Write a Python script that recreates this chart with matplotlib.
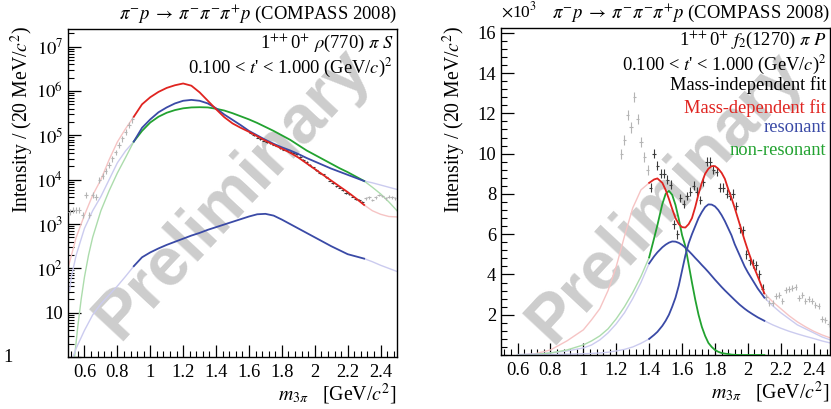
import numpy as np
import matplotlib; matplotlib.use("Agg")
import matplotlib.pyplot as plt
from matplotlib.ticker import MultipleLocator, FixedLocator, FixedFormatter, NullFormatter

plt.rcParams['font.family'] = ['Liberation Serif', 'DejaVu Serif']
plt.rcParams['mathtext.fontset'] = 'stix'

RED = "#e02420"; BLUE = "#3a4aa6"; GREEN = "#22a230"
PINK = "#f6c4c4"; LAV = "#cbcbef"; LGRN = "#acdcac"
GRAY = "#b4b4b4"; DARK = "#3a3a3a"; WM = "#cdcdcd"

# ---------- left panel: 1++0+ rho(770) pi S  (log10 of intensity)
L_FIT_X = [0.90, 0.95, 1.00, 1.05, 1.10, 1.15, 1.20, 1.25, 1.30, 1.35, 1.40, 1.45, 1.50, 1.55,
           1.60, 1.65, 1.70, 1.75, 1.80, 1.85, 1.90, 1.95, 2.00, 2.05, 2.10, 2.15, 2.20, 2.25, 2.30]
L_TOTAL = [5.42, 5.70, 5.86, 5.98, 6.07, 6.13, 6.17, 6.12, 5.97, 5.78, 5.59, 5.41, 5.27, 5.17,
           5.08, 4.98, 4.88, 4.79, 4.70, 4.61, 4.50, 4.37, 4.24, 4.11, 3.98, 3.85, 3.72, 3.58, 3.43]
L_RES = [4.86, 5.17, 5.36, 5.52, 5.63, 5.72, 5.78, 5.80, 5.78, 5.72, 5.61, 5.47, 5.35, 5.23,
         5.10, 5.00, 4.90, 4.81, 4.73, 4.66, 4.58, 4.49, 4.41, 4.33, 4.25, 4.18, 4.11, 4.04, 3.97]
L_NONRES = [4.86, 5.10, 5.29, 5.42, 5.51, 5.57, 5.61, 5.63, 5.635, 5.63, 5.60, 5.56, 5.50, 5.43,
            5.36, 5.28, 5.19, 5.10, 5.00, 4.90, 4.78, 4.66, 4.56, 4.46, 4.36, 4.26, 4.17, 4.07, 3.97]
L_RES2 = [2.05, 2.25, 2.36, 2.45, 2.53, 2.60, 2.67, 2.74, 2.80, 2.87, 2.93, 2.99, 3.05, 3.11,
          3.17, 3.22, 3.23, 3.19, 3.10, 3.00, 2.90, 2.80, 2.70, 2.60, 2.50, 2.41, 2.32, 2.27, 2.22]
# faded extensions outside the fit range
L_TOTAL_LO_X = [0.50, 0.55, 0.60, 0.65, 0.70, 0.75, 0.80, 0.85, 0.90]
L_TOTAL_LO = [2.00, 2.70, 3.20, 3.65, 4.00, 4.45, 4.85, 5.15, 5.42]
L_RES_LO_X = [0.51, 0.52, 0.55, 0.60, 0.65, 0.70, 0.75, 0.80, 0.85, 0.90]
L_RES_LO = [1.50, 1.80, 2.30, 2.90, 3.30, 3.62, 4.00, 4.38, 4.65, 4.86]
L_NONRES_LO_X = [0.54, 0.56, 0.58, 0.60, 0.625, 0.65, 0.70, 0.75, 0.80, 0.85, 0.90]
L_NONRES_LO = [0.00, 0.70, 1.30, 1.80, 2.30, 2.70, 3.30, 3.75, 4.15, 4.50, 4.86]
L_RES2_LO_X = [0.53, 0.55, 0.60, 0.65, 0.70, 0.75, 0.80, 0.85, 0.90]
L_RES2_LO = [0.00, 0.20, 0.60, 0.95, 1.20, 1.40, 1.60, 1.82, 2.05]
L_HI_X = [2.30, 2.35, 2.40, 2.45, 2.50]
L_TOTAL_HI = [3.43, 3.30, 3.22, 3.17, 3.16]
L_RES_HI = [3.97, 3.93, 3.88, 3.83, 3.78]
L_NONRES_HI = [3.97, 3.83, 3.68, 3.50, 3.30]
L_RES2_HI = [2.22, 2.15, 2.07, 2.00, 1.93]
# mass-independent points
L_PTS_LO_X = [0.51, 0.53, 0.55, 0.57, 0.59, 0.61, 0.63, 0.65, 0.67, 0.69, 0.71, 0.73, 0.75, 0.77,
              0.79, 0.81, 0.83, 0.85, 0.87, 0.89]
L_PTS_LO = [3.28, 3.32, 3.32, 3.32, 3.20, 3.66, 3.20, 3.66, 3.62, 4.00, 4.08, 4.20, 4.34, 4.48,
            4.62, 4.78, 4.93, 5.08, 5.23, 5.36]
L_PTS_X = [1.61, 1.63, 1.65, 1.67, 1.69, 1.71, 1.73, 1.75, 1.77, 1.79, 1.81, 1.83, 1.85, 1.87,
           1.89, 1.91, 1.93, 1.95, 1.97, 1.99, 2.01, 2.03, 2.05, 2.07, 2.09, 2.11, 2.13, 2.15,
           2.17, 2.19, 2.21, 2.23, 2.25, 2.27, 2.29]
L_PTS = [5.05, 5.00, 4.95, 4.92, 4.88, 4.84, 4.82, 4.79, 4.77, 4.72, 4.68, 4.66, 4.62, 4.60,
         4.58, 4.52, 4.45, 4.40, 4.33, 4.28, 4.22, 4.15, 4.12, 4.05, 3.98, 3.92, 3.85, 3.82,
         3.76, 3.70, 3.68, 3.62, 3.57, 3.54, 3.50]
L_PTS_HI_X = [2.31, 2.33, 2.35, 2.37, 2.39, 2.41, 2.43, 2.45, 2.47, 2.49]
L_PTS_HI = [3.58, 3.60, 3.55, 3.60, 3.65, 3.63, 3.58, 3.62, 3.60, 3.58]

# ---------- right panel: 1++0+ f2(1270) pi P  (intensity in units of 10^3)
R_FIT_X = [1.40, 1.43, 1.45, 1.48, 1.50, 1.52, 1.54, 1.56, 1.58, 1.60, 1.62, 1.64, 1.66, 1.68,
           1.70, 1.72, 1.74, 1.76, 1.78, 1.80, 1.82, 1.84, 1.86, 1.88, 1.90, 1.92, 1.95, 1.98,
           2.00, 2.03, 2.06, 2.10]
R_TOTAL = [8.55, 8.72, 8.77, 8.55, 8.20, 7.75, 7.25, 6.80, 6.50, 6.35, 6.33, 6.50, 6.80, 7.35,
           8.00, 8.55, 9.00, 9.25, 9.38, 9.38, 9.25, 9.05, 8.75, 8.25, 7.80, 7.30, 6.50, 5.70,
           5.20, 4.50, 3.90, 3.06]
R_RES1 = [4.55, 4.90, 5.10, 5.35, 5.48, 5.58, 5.64, 5.63, 5.57, 5.47, 5.33, 5.17, 5.00, 4.82,
          4.65, 4.47, 4.30, 4.12, 3.93, 3.74, 3.56, 3.38, 3.21, 3.05, 2.89, 2.73, 2.50, 2.30,
          2.18, 2.02, 1.87, 1.70]
R_RES2 = [0.80, 1.00, 1.15, 1.45, 1.70, 2.00, 2.40, 2.85, 3.45, 4.20, 4.95, 5.55, 6.00, 6.40,
          6.80, 7.10, 7.35, 7.48, 7.47, 7.38, 7.20, 6.95, 6.65, 6.30, 5.95, 5.50, 4.95, 4.40,
          4.10, 3.70, 3.30, 2.85]
R_NONRES = [4.85, 5.80, 6.45, 7.50, 8.00, 8.15, 7.95, 7.45, 6.75, 5.95, 5.40, 4.50, 3.60, 2.75,
            2.00, 1.40, 0.95, 0.60, 0.40, 0.25, 0.16, 0.10, 0.07, 0.05, 0.02, 0.01, 0.0, 0.0,
            0.0, 0.0, 0.0, 0.0]
R_LO_X = [0.60, 0.70, 0.80, 0.90, 1.00, 1.05, 1.10, 1.15, 1.20, 1.25, 1.30, 1.35, 1.40]
R_TOTAL_LO = [0.00, 0.05, 0.25, 0.70, 1.25, 1.75, 2.30, 3.20, 4.40, 5.90, 7.30, 8.20, 8.55]
R_RES1_LO = [0.02, 0.05, 0.10, 0.20, 0.35, 0.50, 0.75, 1.10, 1.55, 2.10, 2.80, 3.60, 4.55]
R_NONRES_LO = [0.00, 0.02, 0.10, 0.25, 0.50, 0.70, 0.95, 1.30, 1.80, 2.40, 3.10, 3.90, 4.85]
R_RES2_LO = [0.00, 0.00, 0.02, 0.04, 0.06, 0.08, 0.10, 0.14, 0.20, 0.28, 0.40, 0.58, 0.80]
R_HI_X = [2.10, 2.15, 2.20, 2.25, 2.30, 2.35, 2.40, 2.45, 2.50]
R_TOTAL_HI = [3.06, 2.65, 2.30, 1.95, 1.65, 1.40, 1.18, 1.00, 0.85]
R_RES1_HI = [1.70, 1.50, 1.33, 1.18, 1.05, 0.93, 0.82, 0.70, 0.60]
R_RES2_HI = [2.85, 2.45, 2.10, 1.80, 1.50, 1.30, 1.10, 0.90, 0.75]
R_NONRES_HI = [0.0, 0.0, 0.0, 0.0, 0.0, 0.0, 0.0, 0.0, 0.0]
R_PTS_LO_X = [1.23, 1.25, 1.27, 1.29, 1.31, 1.33, 1.35, 1.37, 1.39]
R_PTS_LO = [10.0, 10.7, 11.9, 11.3, 12.8, 11.7, 10.6, 9.85, 9.2]
R_PTS_X = [1.41, 1.43, 1.45, 1.47, 1.49, 1.51, 1.53, 1.55, 1.57, 1.59, 1.61, 1.63, 1.65, 1.67,
           1.69, 1.71, 1.73, 1.75, 1.77, 1.79, 1.81, 1.83, 1.85, 1.87, 1.89, 1.91, 1.93, 1.95,
           1.97, 1.99, 2.01, 2.03, 2.05, 2.07, 2.09]
R_PTS = [8.3, 10.0, 9.4, 9.0, 9.0, 8.7, 8.45, 6.5, 6.0, 7.8, 7.5, 7.9, 8.1, 8.4,
         8.1, 7.7, 8.6, 9.6, 9.6, 9.2, 9.1, 8.3, 8.3, 8.0, 7.9, 8.0, 7.4, 6.3,
         6.2, 5.0, 4.7, 4.55, 4.45, 4.0, 3.3]
R_PTS_HI_X = [2.11, 2.13, 2.15, 2.17, 2.19, 2.21, 2.23, 2.25, 2.27, 2.29, 2.31, 2.33, 2.35, 2.37,
              2.39, 2.41, 2.43, 2.45, 2.47, 2.49]
R_PTS_HI = [2.9, 2.6, 2.6, 2.95, 3.0, 2.7, 3.25, 3.3, 3.35, 3.4, 2.85, 3.0, 2.7, 2.8,
            2.7, 2.5, 2.45, 1.8, 1.75, 1.55]

X_TICKS = [0.6, 0.8, 1.0, 1.2, 1.4, 1.6, 1.8, 2.0, 2.2, 2.4]
X_TICKLABELS = ["0.6", "0.8", "1", "1.2", "1.4", "1.6", "1.8", "2", "2.2", "2.4"]
L_YTICKS = [1, 10, 1e2, 1e3, 1e4, 1e5, 1e6, 1e7]
L_YTICKLABELS = ["", "10", r"$10^2$", r"$10^3$", r"$10^4$", r"$10^5$", r"$10^6$", r"$10^7$"]
R_YTICKS = [2, 4, 6, 8, 10, 12, 14, 16]

TITLE = r"$\pi^{-}p\;\rightarrow\;\pi^{-}\pi^{-}\pi^{+}p$ (COMPASS 2008)"
TCUT = r"0.100 < $t$' < 1.000 (GeV/$c$)$^2$"
YLAB = r"Intensity / (20 MeV/$c^2$)"
XLAB = r"$m_{3\pi}$   [GeV/$c^2$]"
FS = 13.3

fig = plt.figure(figsize=(8.31, 4.09), dpi=100)
axL = fig.add_axes([0.0818, 0.127, 0.396, 0.802])
axR = fig.add_axes([0.603, 0.132, 0.396, 0.800])

def p10(a):
    return 10 ** np.asarray(a, dtype=float)

# ----- left
ax = axL
ax.text(0.50, 0.50, "Preliminary", transform=ax.transAxes, rotation=47, ha='center', va='center',
        fontsize=49, fontweight='bold', color=WM, family='Liberation Sans', zorder=0)
ax.plot(L_TOTAL_LO_X, p10(L_TOTAL_LO), color=PINK, lw=1.0, zorder=2)
ax.plot(L_RES_LO_X, p10(L_RES_LO), color=LAV, lw=1.0, zorder=2)
ax.plot(L_NONRES_LO_X, p10(L_NONRES_LO), color=LGRN, lw=1.0, zorder=2)
ax.plot(L_RES2_LO_X, p10(L_RES2_LO), color=LAV, lw=1.0, zorder=2)
ax.plot(L_HI_X, p10(L_TOTAL_HI), color=PINK, lw=1.0, zorder=2)
ax.plot(L_HI_X, p10(L_RES_HI), color=LAV, lw=1.0, zorder=2)
ax.plot(L_HI_X, p10(L_NONRES_HI), color=LGRN, lw=1.0, zorder=2)
ax.plot(L_HI_X, p10(L_RES2_HI), color=LAV, lw=1.0, zorder=2)
ax.errorbar(L_PTS_LO_X, p10(L_PTS_LO), xerr=0.01, yerr=0.15 * p10(L_PTS_LO), fmt='none',
            ecolor=GRAY, elinewidth=0.8, zorder=3)
ax.errorbar(L_PTS_HI_X, p10(L_PTS_HI), xerr=0.01, yerr=0.06 * p10(L_PTS_HI), fmt='none',
            ecolor=GRAY, elinewidth=0.8, zorder=3)
ax.errorbar(L_PTS_X, p10(L_PTS), xerr=0.01, yerr=0.04 * p10(L_PTS), fmt='none',
            ecolor=DARK, elinewidth=0.8, zorder=3)
ax.plot(L_FIT_X, p10(L_NONRES), color=GREEN, lw=1.3, zorder=4)
ax.plot(L_FIT_X, p10(L_RES), color=BLUE, lw=1.3, zorder=4)
ax.plot(L_FIT_X, p10(L_RES2), color=BLUE, lw=1.3, zorder=4)
ax.plot(L_FIT_X, p10(L_TOTAL), color=RED, lw=1.3, zorder=5)
ax.set_yscale('log')
ax.set_xlim(0.5, 2.5); ax.set_ylim(1, 2.5e7)
ax.yaxis.set_major_locator(FixedLocator(L_YTICKS))
ax.yaxis.set_major_formatter(FixedFormatter(L_YTICKLABELS))
ax.yaxis.set_minor_locator(FixedLocator([m * 10 ** e for e in range(0, 8) for m in range(2, 10)]))
ax.yaxis.set_minor_formatter(NullFormatter())
# ROOT puts the "1" label far to the left
fig.text(3 / 831, 1 - 357 / 409, "1", ha='left', va='center', fontsize=FS)
ax.text(0.988, (357 - 48) / 328, r"1$^{+\!+}$0$^{+}$ $\rho$(770) $\pi$ $S$",
        transform=ax.transAxes, ha='right', va='baseline', fontsize=FS)
ax.text(0.988, (357 - 73) / 328, TCUT, transform=ax.transAxes, ha='right', va='baseline', fontsize=FS)

# ----- right
ax = axR
ax.text(0.50, 0.48, "Preliminary", transform=ax.transAxes, rotation=47, ha='center', va='center',
        fontsize=49, fontweight='bold', color=WM, family='Liberation Sans', zorder=0)
ax.plot(R_LO_X, R_TOTAL_LO, color=PINK, lw=1.0, zorder=2)
ax.plot(R_LO_X, R_RES1_LO, color=LAV, lw=1.0, zorder=2)
ax.plot(R_LO_X, R_NONRES_LO, color=LGRN, lw=1.0, zorder=2)
ax.plot(R_LO_X, R_RES2_LO, color=LAV, lw=1.0, zorder=2)
ax.plot(R_HI_X, R_TOTAL_HI, color=PINK, lw=1.0, zorder=2)
ax.plot(R_HI_X, R_RES1_HI, color=LAV, lw=1.0, zorder=2)
ax.plot(R_HI_X, R_RES2_HI, color=LAV, lw=1.0, zorder=2)
ax.plot(R_HI_X, R_NONRES_HI, color=LGRN, lw=1.0, zorder=2)
ax.errorbar(R_PTS_LO_X, R_PTS_LO, xerr=0.01, yerr=0.25, fmt='none', ecolor=GRAY,
            elinewidth=0.8, zorder=3)
ax.errorbar(R_PTS_HI_X, R_PTS_HI, xerr=0.01, yerr=0.15, fmt='none', ecolor=GRAY,
            elinewidth=0.8, zorder=3)
ax.errorbar(R_PTS_X, R_PTS, xerr=0.01, yerr=0.22, fmt='none', ecolor=DARK,
            elinewidth=0.8, zorder=3)
ax.plot(R_FIT_X, R_NONRES, color=GREEN, lw=1.3, zorder=4)
ax.plot(R_FIT_X, R_RES1, color=BLUE, lw=1.3, zorder=4)
ax.plot(R_FIT_X, R_RES2, color=BLUE, lw=1.3, zorder=4)
ax.plot(R_FIT_X, R_TOTAL, color=RED, lw=1.3, zorder=5)
ax.set_xlim(0.5, 2.5); ax.set_ylim(0, 16.25)
ax.yaxis.set_major_locator(FixedLocator(R_YTICKS))
ax.yaxis.set_minor_locator(MultipleLocator(0.4))
ax.yaxis.set_major_formatter(FixedFormatter([str(v) for v in R_YTICKS]))
ax.text(0.0, 1.02, r"$\times$10$^3$", transform=ax.transAxes, ha='left', va='bottom', fontsize=12.5)
ax.text(0.988, (355 - 45) / 327, r"1$^{+\!+}$0$^{+}$ $f_2$(1270) $\pi$ $P$", transform=ax.transAxes,
        ha='right', va='baseline', fontsize=FS)
ax.text(0.988, (355 - 70) / 327, TCUT, transform=ax.transAxes, ha='right', va='baseline', fontsize=FS)
for yb, lab, col in [(90, "Mass-independent fit", "black"), (113, "Mass-dependent fit", RED),
                     (132, "resonant", BLUE), (155, "non-resonant", GREEN)]:
    ax.text(0.988, (355 - yb) / 327, lab, transform=ax.transAxes, ha='right', va='baseline',
            fontsize=FS, color=col)

for ax in (axL, axR):
    ax.xaxis.set_major_locator(FixedLocator(X_TICKS))
    ax.xaxis.set_major_formatter(FixedFormatter(X_TICKLABELS))
    ax.xaxis.set_minor_locator(MultipleLocator(0.04))
    ax.tick_params(which='both', direction='in', labelsize=FS, top=False, right=False)
    ax.tick_params(which='major', length=9, width=0.9)
    ax.tick_params(which='minor', length=4.5, width=0.8)
    ax.tick_params(axis='x', pad=5)
    for s in ax.spines.values():
        s.set_linewidth(1.0)
    ax.text(1.0, 1.012, TITLE, transform=ax.transAxes, ha='right', va='bottom', fontsize=13.4)
    ax.set_xlabel(XLAB, fontsize=14.3, loc='right', labelpad=1)

fig.text(22 / 831, 1 - 26 / 409, YLAB, rotation=90, ha='center', va='top', fontsize=14.2)
fig.text(454 / 831, 1 - 26 / 409, YLAB, rotation=90, ha='center', va='top', fontsize=14.2)

fig.savefig("out.png", dpi=100)
